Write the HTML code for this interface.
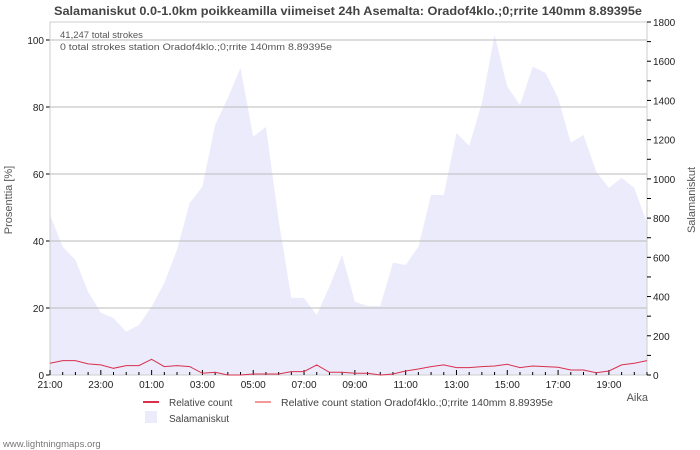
<!DOCTYPE html>
<html><head><meta charset="utf-8"><style>
body{margin:0;background:#fff;}
svg{display:block;font-family:"Liberation Sans","DejaVu Sans",sans-serif;}
</style></head><body>
<svg id="c" width="700" height="450" viewBox="0 0 700 450" xmlns="http://www.w3.org/2000/svg">
<text x="348" y="15" text-anchor="middle" font-size="12" font-weight="bold" fill="#444" textLength="588" lengthAdjust="spacingAndGlyphs">Salamaniskut 0.0-1.0km poikkeamilla viimeiset 24h Asemalta: Oradof4klo.;0;rrite 140mm 8.89395e</text>
<g id="plot"></g>
</svg>
<script>
const strokes=[816,654,587,425,318,290,221,255,348,469,638,877,960,1275,1412,1566,1215,1265,790,393,393,306,450,612,374,352,352,573,561,654,918,918,1234,1168,1387,1734,1470,1377,1572,1541,1412,1185,1224,1037,954,1005,954,775];
const relative=[3.5,4.3,4.3,3.3,3.0,2.0,2.8,2.8,4.7,2.5,2.8,2.5,0.5,0.8,0,0,0.3,0.3,0.3,1.0,1.0,3.0,0.8,0.8,0.5,0.5,0,0.3,1.2,1.8,2.5,3.0,2.2,2.2,2.5,2.7,3.2,2.2,2.7,2.5,2.3,1.5,1.5,0.7,1.2,3.0,3.5,4.3];
const xLabels=["21:00","23:00","01:00","03:00","05:00","07:00","09:00","11:00","13:00","15:00","17:00","19:00"];
const leftTicks=[0,20,40,60,80,100];
const rightTicks=[0,200,400,600,800,1000,1200,1400,1600,1800];

const NS="http://www.w3.org/2000/svg";
const g=document.getElementById('plot');
const X0=50,X1=647,YB=375,YT=22;
const step=(X1-X0)/(strokes.length-1);
const xi=i=>X0+i*step;
const yL=v=>YB-v*(YB-40)/100;
const yR=v=>YB-v*(YB-YT)/1800;
function mk(t,a,txt){const e=document.createElementNS(NS,t);for(const k in a)e.setAttribute(k,a[k]);if(txt!==undefined)e.textContent=txt;g.appendChild(e);return e;}

let d=`M${X0},${YB}`;strokes.forEach((v,i)=>d+=` L${xi(i).toFixed(1)},${yR(v).toFixed(1)}`);d+=` L${X1},${YB} Z`;
let e=mk('path',{d:d,fill:'#ebebfc'});


leftTicks.forEach(v=>{if(v>0){let l=mk('line',{x1:X0,x2:X1,y1:yL(v),y2:yL(v),stroke:'#bbb','stroke-width':1});

}
mk('line',{x1:X0-4,x2:X0,y1:yL(v),y2:yL(v),stroke:'#000'});
let tx=mk('text',{x:X0-6,y:yL(v)+4,'text-anchor':'end','font-size':10,fill:'#222'},v);

});
let fr=mk('rect',{x:X0,y:YT,width:X1-X0,height:YB-YT,fill:'none',stroke:'#ccc'});


for(let v=0;v<=1800;v+=100){mk('line',{x1:X1,x2:X1+4,y1:yR(v),y2:yR(v),stroke:'#000'});}
rightTicks.forEach(v=>{let tx=mk('text',{x:X1+6,y:yR(v)+4,'font-size':10,fill:'#222'},v);

});
for(let i=0;i<strokes.length;i++){const big=i%4===0;mk('line',{x1:xi(i),x2:xi(i),y1:YB,y2:YB-(big?5:3),stroke:'#000'});}
xLabels.forEach((s,k)=>{let tx=mk('text',{x:X0+k*4*step,y:YB+13,'text-anchor':'middle','font-size':10,fill:'#222'},s);

});
let p=relative.map((v,i)=>`${i?'L':'M'}${xi(i).toFixed(1)},${yL(v).toFixed(1)}`).join(' ');
let ln=mk('path',{d:p,fill:'none',stroke:'#d9304c','stroke-width':1});


function T(name,a,s){let t=mk('text',a,s);return t;}
T('total-strokes-note',{x:60,y:38,'font-size':9.5,fill:'#555'},'41,247 total strokes');
T('station-strokes-note',{x:60,y:50,'font-size':9.5,fill:'#555',textLength:272,lengthAdjust:'spacingAndGlyphs'},'0 total strokes station Oradof4klo.;0;rrite 140mm 8.89395e');
T('y-axis-title',{x:12,y:200,'font-size':11,fill:'#555','text-anchor':'middle',transform:'rotate(-90 12 200)'},'Prosenttia   [%]');
T('right-axis-title',{x:695,y:200,'font-size':11,fill:'#555','text-anchor':'middle',transform:'rotate(-90 695 200)'},'Salamaniskut');
T('x-axis-title',{x:648,y:401,'font-size':11,fill:'#555','text-anchor':'end'},'Aika');
mk('line',{x1:143,x2:159,y1:402,y2:402,stroke:'#d9304c','stroke-width':2});
T('legend-relative-count',{x:169,y:406,'font-size':10,fill:'#444'},'Relative count');
mk('line',{x1:255,x2:271,y1:402,y2:402,stroke:'#f29a9a','stroke-width':2});
T('legend-relative-count-station',{x:281,y:406,'font-size':10,fill:'#444',textLength:272,lengthAdjust:'spacingAndGlyphs'},'Relative count station Oradof4klo.;0;rrite 140mm 8.89395e');
mk('rect',{x:145,y:411,width:12,height:12,fill:'#ebebfc'});
T('legend-salamaniskut',{x:169,y:422,'font-size':10,fill:'#444'},'Salamaniskut');
T('watermark',{x:3,y:447,'font-size':9.5,fill:'#777'},'www.lightningmaps.org');
</script>
</body></html>
